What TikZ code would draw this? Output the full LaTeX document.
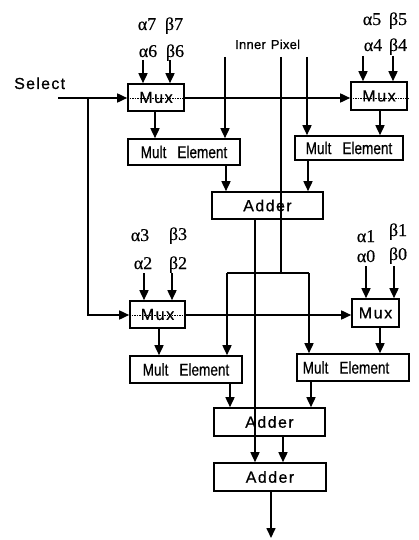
\documentclass[tikz,border=0pt]{standalone}
\usepackage{fontspec}
\setmainfont{Liberation Sans}
\newfontfamily\gk[FakeBold=0.4]{Liberation Serif}
\newfontfamily\nar[FakeStretch=0.8,FakeBold=0.6]{Liberation Sans}
\newfontfamily\sfb[FakeBold=0.6]{Liberation Sans}
\usetikzlibrary{arrows.meta,calc}
\begin{document}
\begin{tikzpicture}[x=1pt,y=-1pt,
  ln/.style={line width=1.6pt},
  arr/.style={line width=1.6pt,-{Triangle[length=10pt,width=9pt]}},
  thru/.style={line width=0.7pt,dash pattern=on 1.5pt off 1pt},
  box/.style={draw,line width=1.6pt,inner sep=0pt},
  muxbox/.style={box,minimum width=#1,minimum height=27pt,
     font=\sfb\fontsize{16}{16}\selectfont\addfontfeature{LetterSpace=10}},
  multbox/.style={box,minimum width=112pt,minimum height=26pt,
     font=\nar\fontsize{17}{17}\selectfont},
  addbox/.style={box,minimum width=111pt,minimum height=27pt,
     font=\sfb\fontsize{16}{16}\selectfont\addfontfeature{LetterSpace=9}},
  gl/.style={font=\gk\fontsize{18}{18}\selectfont,inner sep=0pt,anchor=base},
  lbl/.style={inner sep=0pt,anchor=base west}]
\useasboundingbox (0,0) rectangle (418,540);

% boxes
\node[muxbox=56pt] (mux1) at (156,97.5) {Mux};
\node[muxbox=56pt,minimum height=28pt] (mux2) at (379,96) {Mux};
\node[muxbox=55pt] (mux3) at (157.5,314.5) {Mux};
\node[muxbox=47pt,minimum height=28pt] (mux4) at (375.5,313) {Mux};
\node[multbox] (mult1) at (184,152) {Mult\hspace{11pt}Element};
\node[multbox,minimum width=108pt,minimum height=24pt] (mult2) at (349,148) {Mult\hspace{11pt}Element};
\node[multbox,minimum height=27pt] (mult3) at (186,369.5) {Mult\hspace{11pt}Element};
\node[multbox,minimum height=27pt] (mult4) at (353,367.5) {\kern-14pt Mult\hspace{11pt}Element};
\node[addbox] (adder1) at (267.5,205.5) {Adder};
\node[addbox,minimum height=28pt] (adder2) at (269.5,422) {Adder};
\node[addbox,minimum width=112pt,minimum height=28pt] (adder3) at (270,477) {Adder};

% texts
\node[lbl,font=\sfb\fontsize{16}{16}\selectfont\addfontfeature{LetterSpace=8}] (seltxt) at (14,89) {Select};
\node[lbl,font=\sfb\fontsize{13}{13}\selectfont\addfontfeature{LetterSpace=2}] (iptxt) at (235,49) {Inner\hspace{5pt}Pixel};

\node[gl] (a7) at (147,30) {α7};
\node[gl] (b7) at (174,30) {β7};
\node[gl] (a6) at (148,57) {α6};
\node[gl] (b6) at (175,57) {β6};
\node[gl] (a5) at (372,25) {α5};
\node[gl] (b5) at (398,25) {β5};
\node[gl] (a4) at (373,51) {α4};
\node[gl] (b4) at (398,51) {β4};
\node[gl] (a3) at (140,241) {α3};
\node[gl] (b3) at (178,240) {β3};
\node[gl] (a2) at (143,269) {α2};
\node[gl] (b2) at (178,269) {β2};
\node[gl] (a1) at (366,242) {α1};
\node[gl] (b1) at (398,236) {β1};
\node[gl] (a0) at (366,262) {α0};
\node[gl] (b0) at (398,260) {β0};

% coefficient inputs
\coordinate (i6a) at (143,60);  \coordinate (i6b) at (170,60);
\coordinate (i4a) at (363,56);  \coordinate (i4b) at (393,56);
\coordinate (i2a) at (144,273); \coordinate (i2b) at (172,273);
\coordinate (i0a) at (366,266); \coordinate (i0b) at (394,266);
\foreach \c/\m in {i6a/mux1,i6b/mux1,i4a/mux2,i4b/mux2,i2a/mux3,i2b/mux3,i0a/mux4,i0b/mux4}
  \draw[arr] (\c) -- (\c |- \m.north);

% select lines
\coordinate (sel) at (58,98);
\coordinate (j1) at (88,98);
\coordinate (sel2) at (88,315);
\draw[arr] (sel) -- (sel -| mux1.west);
\draw[thru] (sel -| mux1.west) -- (sel -| mux1.east);
\draw[arr] (sel -| mux1.east) -- (sel -| mux2.west);
\draw[thru] (sel -| mux2.west) -- (sel -| mux2.east);
\draw[arr] (j1) |- (sel2 -| mux3.west);
\draw[thru] (sel2 -| mux3.west) -- (sel2 -| mux3.east);
\draw[arr] (sel2 -| mux3.east) -- (sel2 -| mux4.west);

% mux to mult
\coordinate (m1x) at (155,0); \coordinate (m2x) at (380,0);
\coordinate (m3x) at (159,0); \coordinate (m4x) at (380,0);
\draw[arr] (m1x |- mux1.south) -- (m1x |- mult1.north);
\draw[arr] (m2x |- mux2.south) -- (m2x |- mult2.north);
\draw[arr] (m3x |- mux3.south) -- (m3x |- mult3.north);
\draw[arr] (m4x |- mux4.south) -- (m4x |- mult4.north);

% inner pixel
\coordinate (ip1) at (225,57);
\coordinate (ip2) at (281,57);
\coordinate (ip3) at (307,57);
\coordinate (spl) at (281,273);
\coordinate (sl) at (227,273);
\coordinate (sr) at (309,273);
\draw[arr] (ip1) -- (ip1 |- mult1.north);
\draw[arr] (ip3) -- (ip3 |- mult2.north);
\draw[ln] (ip2) -- (spl);
\draw[ln] (sl) -- (sr);
\draw[arr] (sl) -- (sl |- mult3.north);
\draw[arr] (sr) -- (sr |- mult4.north);

% mult to adders
\coordinate (o1) at (226,0); \coordinate (o2) at (308,0);
\coordinate (o3) at (230,0); \coordinate (o4) at (311,0);
\draw[arr] (o1 |- mult1.south) -- (o1 |- adder1.north);
\draw[arr] (o2 |- mult2.south) -- (o2 |- adder1.north);
\draw[arr] (o3 |- mult3.south) -- (o3 |- adder2.north);
\draw[arr] (o4 |- mult4.south) -- (o4 |- adder2.north);

% adders
\coordinate (a1o) at (255,0);
\coordinate (a2o) at (283,0);
\coordinate (outp) at (271,538);
\draw[arr] (a1o |- adder1.south) -- (a1o |- adder3.north);
\draw[arr] (a2o |- adder2.south) -- (a2o |- adder3.north);
\draw[arr] (outp |- adder3.south) -- (outp);
\end{tikzpicture}
\end{document}
